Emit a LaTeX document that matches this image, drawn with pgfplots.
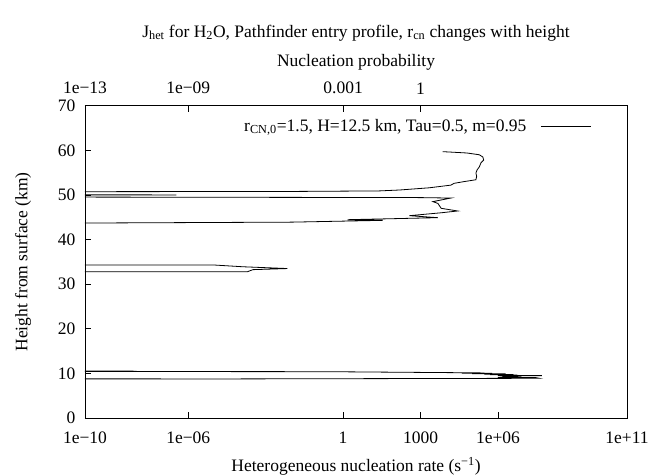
\documentclass[border=0pt]{standalone}
\usepackage{fontspec}
\setmainfont{Liberation Serif}
\usepackage{pgfplots}
\pgfplotsset{compat=1.18}
\begin{document}
\begin{tikzpicture}
\pgfplotsset{every axis/.append style={font=\fontsize{17.5}{21}\selectfont}}
\begin{axis}[
  at={(0,0)}, anchor=south west,
  scale only axis, width=542pt, height=312.3pt,
  xmode=log, xmin=1e-10, xmax=1e11, ymin=0, ymax=70,
  xtick={1e-10,1e-6,1,1e3,1e6,1e11},
  xticklabels={1e−10,1e−06,1,1000,1e+06,1e+11},
  ytick={0,10,...,70},
  xtick pos=bottom, ytick pos=left,
  tick align=inside, major tick length=6pt, minor tick num=0,
  /pgf/number format/assume math mode=true,
  axis line style={line width=0.7pt},
  every tick/.style={line width=0.7pt, black},
  xticklabel style={yshift=-10pt},
  yticklabel style={xshift=-6pt},
  xlabel={Heterogeneous nucleation rate (s\textsuperscript{−1})},
  ylabel={Height from surface (km)},
  xlabel style={at={(axis description cs:0.5,-0.1537)}, anchor=center},
  ylabel style={at={(axis description cs:-0.1144,0.5)}, anchor=center},
  legend style={draw=none, fill=none, at={(axis description cs:0.94,0.935)}, anchor=east, font=\fontsize{17.5}{21}\selectfont,
    /tikz/every odd column/.append style={column sep=12pt}},
  legend cell align=right, legend plot pos=right,
  legend image code/.code={\draw[#1] (0pt,0pt) -- (50pt,0pt);},
]
\addplot[black, line width=0.8pt] coordinates {
(7.2e3,59.7) (6.3e4,59.4) (1.9e5,59.0) (2.6e5,58.5) (2.8e5,57.8) (2.2e5,57.2)
(1.9e5,56.3) (1.55e5,55.6) (1.4e5,54.9) (1.5e5,54.2) (1.4e5,53.4) (5.0e4,53.0)
(2.0e4,52.6) (1.5e4,52.2) (2.2e3,51.6) (1.5e2,51.1) (25,50.9) (1e-2,50.78) (1e-14,50.7)
(1e-14,50.05) (3.5e-7,50.0) (1e-14,49.95)
(1e-14,49.55) (1e-2,49.45) (1e3,49.4) (1.5e4,49.3) (3.0e3,48.5) (4.7e3,48.1)
(6.3e3,47.0) (2.75e4,46.4) (6.3e3,46.0) (3.7e2,45.35) (4.7e3,44.9) (1.5,44.45)
(34,44.3) (1e-2,43.9) (1e-14,43.6)
(1e-14,34.3) (1e-5,34.3) (1.3e-5,34.25) (1.3e-4,33.9) (7e-3,33.5) (3.2e-4,33.25)
(2e-4,32.8) (1e-14,32.8)
(1e-14,10.55) (1e-8,10.5) (1e-14,10.46) (1e-8,10.42) (0.25,10.38) (4e4,10.15)
(3e5,10.1) (4e4,10.05) (6e5,10.0) (1e5,9.95) (2e6,9.9) (3e5,9.8) (4e6,9.75)
(5e5,9.7) (6e6,9.6) (1e6,9.55) (5e7,9.5) (2e6,9.45) (8e6,9.35) (1.5e6,9.3)
(6e6,9.2) (1e6,9.15) (3e7,9.05) (4e7,8.9) (1e-6,8.74)
(1e-14,8.7) (5e-7,8.76) (1e-14,8.8)
};
\addlegendentry{r\textsubscript{CN,0}=1.5, H=12.5 km, Tau=0.5, m=0.95}
\end{axis}
\begin{axis}[
  at={(0,0)}, anchor=south west,
  scale only axis, width=542pt, height=312.3pt,
  xmode=log, xmin=1e-13, xmax=1e8, ymin=0, ymax=70,
  axis x line*=top, hide y axis,
  xtick={1e-13,1e-9,1e-3,1},
  xticklabels={1e−13,1e−09,0.001,1},
  tick align=inside, major tick length=6pt, minor tick num=0,
  axis line style={line width=0.7pt},
  every tick/.style={line width=0.7pt, black},
  xticklabel style={yshift=8pt},
  xlabel={Nucleation probability},
  xlabel style={at={(axis description cs:0.5,1.1399)}, anchor=center},
  title={J\textsubscript{het} for H\textsubscript{2}O, Pathfinder entry profile, r\textsubscript{cn} changes with height},
  title style={at={(axis description cs:0.5,1.2136)}, anchor=center},
]
\addplot[draw=none] coordinates {(1,0)};
\end{axis}
\pgfresetboundingbox
\useasboundingbox (-85pt,-58pt) rectangle (581pt,418pt);
\end{tikzpicture}
\end{document}
